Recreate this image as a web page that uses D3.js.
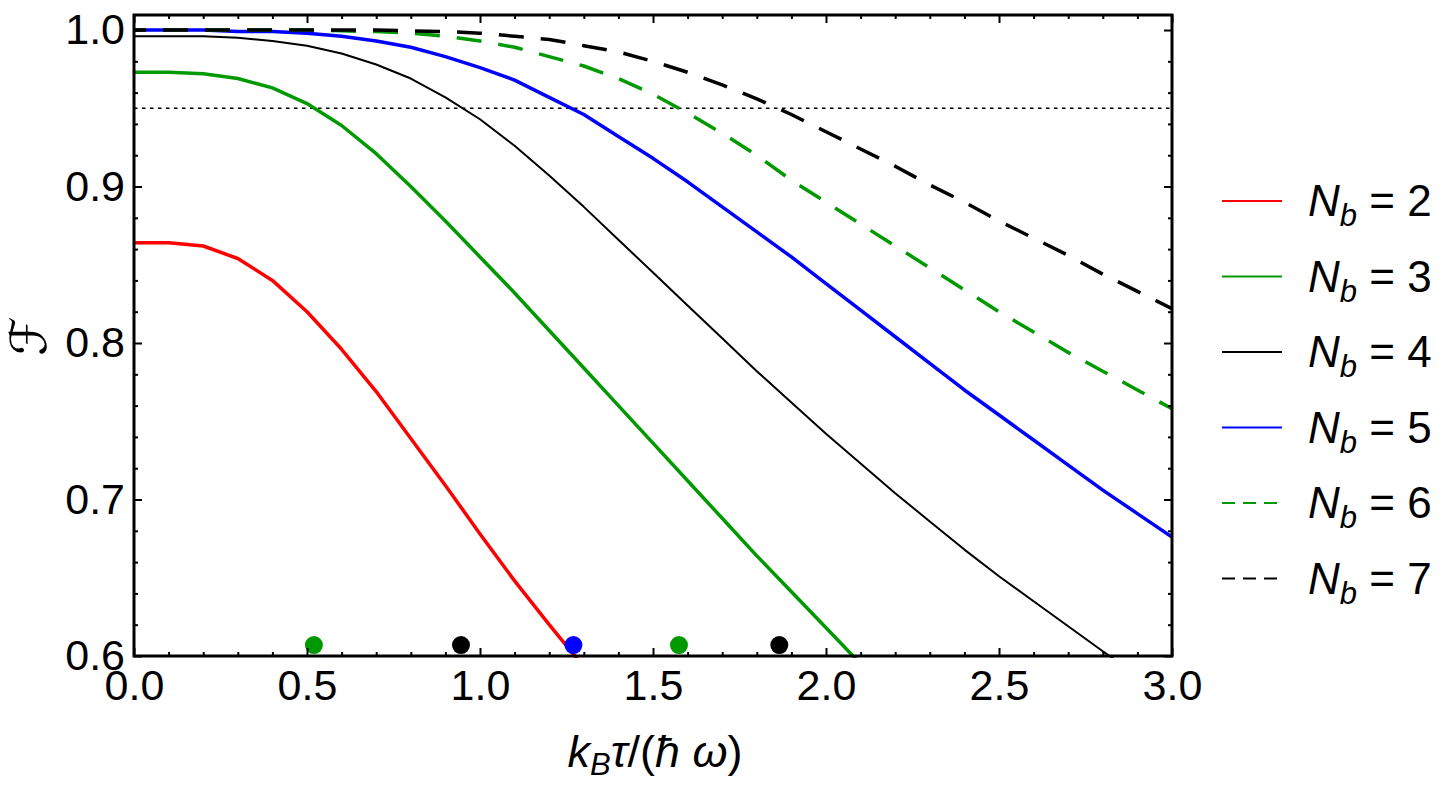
<!DOCTYPE html>
<html>
<head>
<meta charset="utf-8">
<script src="https://cdn.jsdelivr.net/npm/d3@7"></script>
<style>
  body { margin: 0; background: #fff; }
  text { font-family: "Liberation Sans", Arial, sans-serif; fill: #000; }
</style>
</head>
<body>
<script>
// sample points along the x axis (k_B tau / hbar omega)
var tGrid = [0.0, 0.1, 0.2, 0.3, 0.4, 0.5, 0.6, 0.7, 0.8, 0.9, 1.0,
             1.1, 1.2, 1.3, 1.4, 1.5, 1.6, 1.7, 1.8, 1.9, 2.0,
             2.1, 2.2, 2.3, 2.4, 2.5, 2.6, 2.7, 2.8, 2.9, 3.0];

// fidelity, one list per N_b
var fidN2 = [0.864, 0.864, 0.862, 0.854, 0.840, 0.820, 0.796, 0.769, 0.739, 0.709, 0.678,
             0.648, 0.620, 0.593];
var fidN3 = [0.973, 0.973, 0.972, 0.969, 0.963, 0.953, 0.939, 0.921, 0.900, 0.878, 0.855,
             0.832, 0.808, 0.784, 0.760, 0.736, 0.712, 0.688, 0.664, 0.641, 0.618,
             0.595];
var fidN4 = [0.996, 0.996, 0.996, 0.995, 0.993, 0.990, 0.985, 0.978, 0.969, 0.957, 0.943,
             0.926, 0.907, 0.887, 0.866, 0.845, 0.824, 0.803, 0.782, 0.762, 0.742,
             0.723, 0.704, 0.686, 0.668, 0.651, 0.635, 0.619, 0.603, 0.588];
var fidN5 = [1.000, 1.000, 1.000, 0.999, 0.999, 0.998, 0.996, 0.993, 0.989, 0.983, 0.976,
             0.968, 0.957, 0.946, 0.932, 0.918, 0.903, 0.887, 0.871, 0.855, 0.838,
             0.821, 0.804, 0.787, 0.770, 0.754, 0.738, 0.722, 0.706, 0.691, 0.676];
var fidN6 = [1.000, 1.000, 1.000, 1.000, 1.000, 1.000, 0.9995, 0.999, 0.998, 0.996, 0.993,
             0.989, 0.983, 0.977, 0.969, 0.959, 0.947, 0.934, 0.920, 0.904, 0.890,
             0.876, 0.862, 0.848, 0.834, 0.820, 0.807, 0.794, 0.782, 0.770, 0.758];
var fidN7 = [1.000, 1.000, 1.000, 1.000, 1.000, 1.000, 1.000, 1.000, 0.9995, 0.999, 0.998,
             0.996, 0.994, 0.990, 0.986, 0.980, 0.973, 0.965, 0.956, 0.946, 0.935,
             0.924, 0.913, 0.901, 0.890, 0.878, 0.867, 0.856, 0.844, 0.833, 0.822];

var seriesNames = ["2", "3", "4", "5", "6", "7"];
var seriesValues = [fidN2, fidN3, fidN4, fidN5, fidN6, fidN7];

// threshold line and the marked crossings (drawn along the bottom)
var threshold = 0.95;
var markX = [0.52, 0.945, 1.27, 1.575, 1.865];
var markY = 0.607;
var markSeries = ["3", "4", "5", "6", "7"];

var xTicks = [0, 0.5, 1.0, 1.5, 2.0, 2.5, 3.0];
var yTicks = [0.6, 0.7, 0.8, 0.9, 1.0];

// look of each series
var styles = {
  "2": { color: "#ff0000", width: 3.5, dash: null },
  "3": { color: "#009a00", width: 3.5, dash: null },
  "4": { color: "#000000", width: 2, dash: null },
  "5": { color: "#0000ff", width: 3.5, dash: null },
  "6": { color: "#009a00", width: 3.5, dash: "25,17" },
  "7": { color: "#000000", width: 3.5, dash: "25,17" }
};

var svgWidth = 1444;
var svgHeight = 786;

var margin = { top: 15, right: 272, bottom: 130, left: 134 };

var chartWidth = svgWidth - margin.left - margin.right;
var chartHeight = svgHeight - margin.top - margin.bottom;

var svg = d3.select("body")
  .append("svg")
  .attr("width", svgWidth)
  .attr("height", svgHeight);

var chartGroup = svg.append("g")
  .attr("transform", `translate(${margin.left}, ${margin.top})`);

var xScale = d3.scaleLinear().domain([0, 3]).range([0, chartWidth]);
var yScale = d3.scaleLinear().domain([0.6, 1.0096]).range([chartHeight, 0]);

// minor tick positions
var xMinor = d3.range(0, 3.0001, 0.1).filter(d => Math.abs(d * 2 - Math.round(d * 2)) > 1e-6);
var yMinor = d3.range(0.6, 1.0096, 0.02).filter(d => Math.abs(d * 10 - Math.round(d * 10)) > 1e-6);

chartGroup.append("clipPath")
  .attr("id", "plotclip")
  .append("rect")
  .attr("width", chartWidth)
  .attr("height", chartHeight + 2);

// curves
var line = d3.line()
  .x((d, i) => xScale(tGrid[i]))
  .y(d => yScale(d));

var curves = chartGroup.append("g").attr("clip-path", "url(#plotclip)");

curves.append("line")
  .attr("x1", xScale(0))
  .attr("x2", xScale(3))
  .attr("y1", yScale(threshold))
  .attr("y2", yScale(threshold))
  .attr("stroke", "#000")
  .attr("stroke-width", 1.6)
  .attr("stroke-dasharray", "3.5,4.5");

seriesNames.forEach(function(name, k) {
  var st = styles[name];
  curves.append("path")
    .datum(seriesValues[k])
    .attr("d", line)
    .attr("fill", "none")
    .attr("stroke", st.color)
    .attr("stroke-width", st.width)
    .attr("stroke-linejoin", "round")
    .attr("stroke-dasharray", st.dash)
    .attr("stroke-dashoffset", st.dash ? 13 : null);
});

chartGroup.selectAll("circle.mark")
  .data(markX).enter()
  .append("circle")
  .attr("class", "mark")
  .attr("cx", d => xScale(d))
  .attr("cy", yScale(markY))
  .attr("r", 9)
  .attr("fill", (d, i) => styles[markSeries[i]].color);

// frame ticks on all four sides
function styleAxis(g) {
  g.select(".domain").remove();
  g.selectAll(".tick line").attr("stroke", "#000").attr("stroke-width", 2);
  g.selectAll(".tick text")
    .style("font-family", "'Liberation Sans', Arial, sans-serif")
    .style("font-size", "43px");
}

chartGroup.append("g")
  .attr("transform", `translate(0, ${chartHeight})`)
  .call(d3.axisBottom(xScale).tickValues(xTicks).tickFormat(d3.format(".1f"))
    .tickSizeInner(-8).tickSizeOuter(0).tickPadding(13))
  .call(styleAxis);
chartGroup.append("g")
  .attr("transform", `translate(0, ${chartHeight})`)
  .call(d3.axisBottom(xScale).tickValues(xMinor).tickFormat("").tickSizeInner(-4).tickSizeOuter(0))
  .call(styleAxis);
chartGroup.append("g")
  .call(d3.axisTop(xScale).tickValues(xTicks).tickFormat("").tickSizeInner(-8).tickSizeOuter(0))
  .call(styleAxis);
chartGroup.append("g")
  .call(d3.axisTop(xScale).tickValues(xMinor).tickFormat("").tickSizeInner(-4).tickSizeOuter(0))
  .call(styleAxis);

chartGroup.append("g")
  .call(d3.axisLeft(yScale).tickValues(yTicks).tickFormat(d3.format(".1f"))
    .tickSizeInner(-8).tickSizeOuter(0).tickPadding(9))
  .call(styleAxis);
chartGroup.append("g")
  .call(d3.axisLeft(yScale).tickValues(yMinor).tickFormat("").tickSizeInner(-4).tickSizeOuter(0))
  .call(styleAxis);
chartGroup.append("g")
  .attr("transform", `translate(${chartWidth}, 0)`)
  .call(d3.axisRight(yScale).tickValues(yTicks).tickFormat("").tickSizeInner(-8).tickSizeOuter(0))
  .call(styleAxis);
chartGroup.append("g")
  .attr("transform", `translate(${chartWidth}, 0)`)
  .call(d3.axisRight(yScale).tickValues(yMinor).tickFormat("").tickSizeInner(-4).tickSizeOuter(0))
  .call(styleAxis);

chartGroup.append("rect")
  .attr("width", chartWidth)
  .attr("height", chartHeight)
  .attr("fill", "none")
  .attr("stroke", "#000")
  .attr("stroke-width", 3);

// axis labels
var xLabel = chartGroup.append("text")
  .attr("x", chartWidth / 2 + 2)
  .attr("y", chartHeight + 111)
  .attr("text-anchor", "middle")
  .style("font-size", "45px");
xLabel.append("tspan").style("font-style", "italic").text("k");
xLabel.append("tspan").style("font-style", "italic").style("font-size", "31px").attr("dy", 8).text("B");
xLabel.append("tspan").style("font-style", "italic").attr("dy", -8).text("τ");
xLabel.append("tspan").text("/(");
xLabel.append("tspan").style("font-style", "italic").text("ħ");
xLabel.append("tspan").text(" ");
xLabel.append("tspan").style("font-style", "italic").text("ω");
xLabel.append("tspan").text(")");

chartGroup.append("g")
  .attr("transform", `translate(${-105}, ${yScale(0.8) - 7})`)
  .append("text")
  .attr("text-anchor", "middle")
  .attr("dominant-baseline", "central")
  .attr("transform", "rotate(-90)")
  .style("font-family", "'DejaVu Serif', 'DejaVu Sans', 'Noto Sans CJK SC', serif")
  .style("font-size", "50px")
  .text("ℱ");

// legend
var legend = svg.append("g").attr("transform", "translate(1222, 201)");
var legendStep = 75.5;

seriesNames.forEach(function(name, k) {
  var st = styles[name];
  var row = legend.append("g").attr("transform", `translate(0, ${k * legendStep})`);
  row.append("line")
    .attr("x1", 0)
    .attr("x2", st.dash ? 55 : 60)
    .attr("stroke", st.color)
    .attr("stroke-width", 2)
    .attr("stroke-dasharray", st.dash ? "13,8" : null);
  var label = row.append("text")
    .attr("x", 86)
    .attr("y", 15)
    .style("font-size", "44px");
  label.append("tspan").style("font-style", "italic").text("N");
  label.append("tspan").style("font-style", "italic").style("font-size", "31px").attr("dy", 10).text("b");
  label.append("tspan").attr("dy", -10).text(" = " + name);
});
</script>
</body>
</html>
